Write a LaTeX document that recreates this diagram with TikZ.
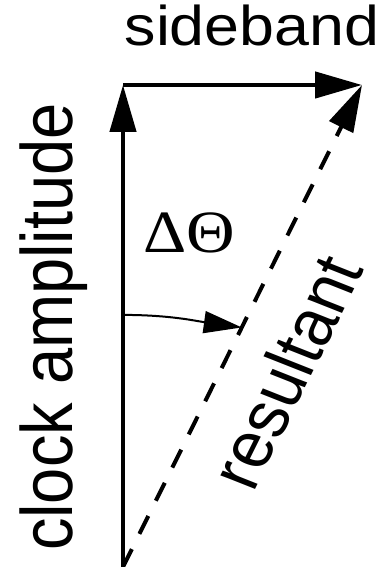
\documentclass[tikz,border=0pt]{standalone}
\usepackage{fontspec}
\setmainfont{Liberation Sans}
\newfontfamily\greekserif{Liberation Serif}
\usetikzlibrary{arrows.meta,calc}

\begin{document}
\begin{tikzpicture}[x=1pt,y=1pt,
  vec/.style={line width=4.5pt,-{Triangle[length=47pt,width=26pt]}},
  lbl/.style={inner sep=0pt,anchor=base,xscale=1.12}]
  \useasboundingbox (0,0) rectangle (390,567);
  % phasor end points
  \coordinate (O) at (123,0);
  \coordinate (C) at (123,482);
  \coordinate (S) at (362,482);
  \draw[vec] (O) -- (C);
  \draw[vec] (C) -- (S);
  \draw[vec,line width=4pt,dash pattern=on 20pt off 17pt] (O) -- (S);
  % phase angle between clock and resultant
  \coordinate (A) at ($(O)!0.523!(C)$);
  \coordinate (B) at ($(O)!0.497!(S)$);
  \draw[line width=2pt,-{Triangle[length=38pt,width=22pt]}] (A) to[out=0,in=172] (B);
  \node[lbl,font=\fontsize{56pt}{60pt}\selectfont] (sb) at (252,521) {sideband};
  \node[lbl,rotate=90,font=\fontsize{65pt}{68pt}\selectfont] (clk) at (72,240) {clock amplitude};
  \node[lbl,rotate=66.1,font=\fontsize{64pt}{68pt}\selectfont] (res) at (309,186) {resultant};
  \node[lbl,font=\fontsize{60pt}{64pt}\selectfont] (dth) at (189,314) {\greekserif ΔΘ};
\end{tikzpicture}
\end{document}
